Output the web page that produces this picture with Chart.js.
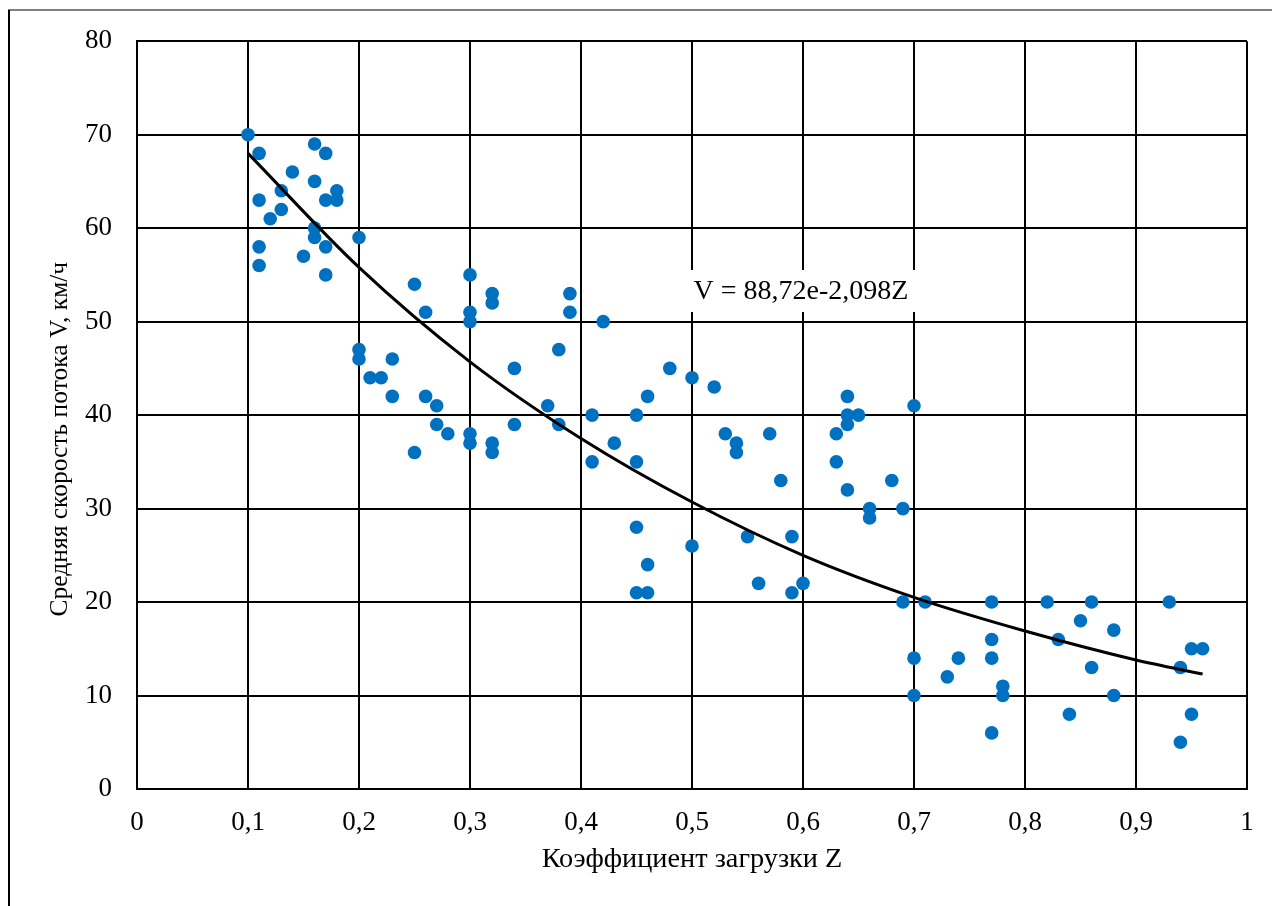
<!DOCTYPE html>
<html>
<head>
<meta charset="utf-8">
<script src="https://cdn.jsdelivr.net/npm/chart.js@4/dist/chart.umd.min.js"></script>
<style>
  body { margin: 0; background: #fff; }
  #wrap { width: 1272px; height: 906px; }
</style>
</head>
<body>
<div id="wrap"><canvas id="scatter-chart" width="1272" height="906"></canvas></div>
<script>
// load factor Z and mean flow speed V (km/h), read point by point
var load_z = [
    0.10, 0.11, 0.11, 0.11, 0.11, 0.12, 0.13, 0.13, 0.14, 0.15,
    0.16, 0.16, 0.16, 0.16, 0.17, 0.17, 0.17, 0.17, 0.18, 0.18,
    0.20, 0.20, 0.20, 0.21, 0.22, 0.23, 0.23, 0.25, 0.25, 0.26,
    0.26, 0.27, 0.27, 0.28, 0.30, 0.30, 0.30, 0.30, 0.30, 0.32,
    0.32, 0.32, 0.32, 0.34, 0.34, 0.37, 0.38, 0.38, 0.39, 0.39,
    0.42, 0.41, 0.41, 0.43, 0.45, 0.45, 0.45, 0.45, 0.46, 0.46,
    0.46, 0.48, 0.50, 0.50, 0.52, 0.53, 0.54, 0.54, 0.55, 0.56,
    0.57, 0.58, 0.59, 0.59, 0.60, 0.63, 0.63, 0.64, 0.64, 0.64,
    0.64, 0.65, 0.66, 0.66, 0.68, 0.69, 0.69, 0.70, 0.70, 0.70,
    0.71, 0.73, 0.74, 0.77, 0.77, 0.77, 0.77, 0.78, 0.78, 0.82,
    0.83, 0.84, 0.85, 0.86, 0.86, 0.88, 0.88, 0.93, 0.94, 0.94,
    0.95, 0.95, 0.96
];
var speed_v = [
    70, 68, 63, 58, 56, 61, 64, 62, 66, 57,
    69, 65, 60, 59, 68, 63, 58, 55, 64, 63,
    59, 47, 46, 44, 44, 46, 42, 54, 36, 51,
    42, 41, 39, 38, 55, 51, 50, 38, 37, 53,
    52, 37, 36, 45, 39, 41, 47, 39, 53, 51,
    50, 40, 35, 37, 40, 35, 28, 21, 42, 24,
    21, 45, 44, 26, 43, 38, 37, 36, 27, 22,
    38, 33, 27, 21, 22, 38, 35, 42, 40, 39,
    32, 40, 30, 29, 33, 30, 20, 41, 14, 10,
    20, 12, 14, 20, 16, 14, 6, 11, 10, 20,
    16, 8, 18, 20, 13, 17, 10, 20, 13, 5,
    15, 8, 15
];

// exponential trend line
var trend_z = [0.10, 0.20, 0.30, 0.40, 0.50, 0.60, 0.70, 0.80, 0.90, 0.96];
var trend_v = [68.0, 55.8, 45.7, 37.5, 30.7, 25.0, 20.5, 16.9, 13.8, 12.3];

var x_ticks = [0, 0.1, 0.2, 0.3, 0.4, 0.5, 0.6, 0.7, 0.8, 0.9, 1];
var y_ticks = [0, 10, 20, 30, 40, 50, 60, 70, 80];

var equation_text = 'V = 88,72e-2,098Z';
var x_title = 'Коэффициент загрузки Z';
var y_title = 'Средняя скорость потока V, км/ч';

var FONT = '"Liberation Serif", "Times New Roman", serif';

var scatter_chart;

window.onload = function(){
    draw_chart();
}

function to_points(xs, ys) {
    return xs.map(function(x, i){ return { x: x, y: ys[i] }; });
}

// frame, y title and the equation label
var extras = {
    id: 'extras',
    beforeDraw: function(chart) {
        var ctx = chart.ctx;
        ctx.save();
        ctx.fillStyle = '#fff';
        ctx.fillRect(0, 0, chart.width, chart.height);
        ctx.lineWidth = 2;
        ctx.strokeStyle = '#808080';
        ctx.beginPath();
        ctx.moveTo(8, 10);
        ctx.lineTo(chart.width, 10);
        ctx.stroke();
        ctx.strokeStyle = '#000';
        ctx.beginPath();
        ctx.moveTo(9, 10);
        ctx.lineTo(9, chart.height);
        ctx.stroke();
        ctx.restore();
    },
    afterDraw: function(chart) {
        var ctx = chart.ctx;
        var area = chart.chartArea;
        ctx.save();
        ctx.fillStyle = '#000';
        ctx.font = '25.5px ' + FONT;
        ctx.textAlign = 'center';
        ctx.textBaseline = 'alphabetic';
        ctx.translate(67, (area.top + area.bottom) / 2 + 24);
        ctx.rotate(-Math.PI / 2);
        ctx.fillText(y_title, 0, 0);
        ctx.restore();

        ctx.save();
        ctx.fillStyle = '#fff';
        ctx.fillRect(686, 270, 230, 42);
        ctx.fillStyle = '#000';
        ctx.font = '28px ' + FONT;
        ctx.textAlign = 'center';
        ctx.textBaseline = 'alphabetic';
        ctx.fillText(equation_text, 801, 299);
        ctx.restore();
    }
};

function draw_chart() {
    var ctx = document.getElementById('scatter-chart').getContext('2d');
    if (scatter_chart) {
        scatter_chart.destroy();
    }
    scatter_chart = new Chart(ctx, {
        type: 'scatter',
        data: {
            datasets: [
                {
                    label: 'trend',
                    type: 'line',
                    data: to_points(trend_z, trend_v),
                    borderColor: '#000',
                    borderWidth: 3,
                    pointRadius: 0,
                    cubicInterpolationMode: 'monotone',
                    fill: false
                },
                {
                    label: 'V',
                    data: to_points(load_z, speed_v),
                    backgroundColor: '#0070C0',
                    borderWidth: 0,
                    pointRadius: 6.8
                }
            ]
        },
        options: {
            responsive: false,
            animation: false,
            devicePixelRatio: 1,
            layout: {
                padding: { left: 0, top: 41, right: 25, bottom: 0 }
            },
            plugins: {
                legend: { display: false },
                tooltip: { enabled: false }
            },
            scales: {
                x: {
                    type: 'linear',
                    min: 0,
                    max: 1,
                    afterBuildTicks: function(scale) {
                        scale.ticks = x_ticks.map(function(v){ return { value: v }; });
                    },
                    afterFit: function(scale) { scale.height = 117; },
                    grid: { color: '#000', lineWidth: 2, drawTicks: false, tickLength: 0 },
                    border: { color: '#000', width: 2 },
                    ticks: {
                        color: '#000',
                        padding: 18,
                        maxRotation: 0,
                        font: { family: FONT, size: 27 },
                        callback: function(v) { return String(v).replace('.', ','); }
                    },
                    title: {
                        display: true,
                        text: x_title,
                        color: '#000',
                        font: { family: FONT, size: 28.3 },
                        padding: { top: 0, bottom: 29 }
                    }
                },
                y: {
                    min: 0,
                    max: 80,
                    afterBuildTicks: function(scale) {
                        scale.ticks = y_ticks.map(function(v){ return { value: v }; });
                    },
                    afterFit: function(scale) { scale.width = 137; },
                    grid: { color: '#000', lineWidth: 2, drawTicks: false, tickLength: 0 },
                    border: { color: '#000', width: 2 },
                    ticks: {
                        color: '#000',
                        padding: 25,
                        font: { family: FONT, size: 27 }
                    }
                }
            }
        },
        plugins: [extras]
    });
}
</script>
</body>
</html>
